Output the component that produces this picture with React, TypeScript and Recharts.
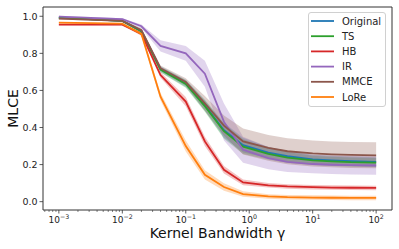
import React from 'react';
import { ComposedChart, Line, Area, XAxis, YAxis, ReferenceArea } from 'recharts';

// kernel bandwidths (log axis)
const gammas = [0.001, 0.01, 0.02, 0.04, 0.1, 0.2, 0.4, 0.8, 2, 4, 10, 20, 40, 100];

// mean MLCE per method
const original = [0.993, 0.975, 0.92, 0.715, 0.638, 0.52, 0.385, 0.305, 0.265, 0.245, 0.228, 0.222, 0.218, 0.215];
const ts = [0.993, 0.975, 0.92, 0.712, 0.635, 0.515, 0.38, 0.297, 0.258, 0.238, 0.223, 0.217, 0.213, 0.211];
const hb = [0.955, 0.955, 0.905, 0.683, 0.54, 0.325, 0.172, 0.104, 0.088, 0.082, 0.078, 0.076, 0.075, 0.074];
const ir = [0.998, 0.984, 0.946, 0.84, 0.8, 0.69, 0.43, 0.28, 0.235, 0.215, 0.203, 0.199, 0.197, 0.195];
const mmce = [0.987, 0.975, 0.925, 0.72, 0.645, 0.53, 0.41, 0.325, 0.29, 0.272, 0.26, 0.255, 0.252, 0.25];
const lore = [0.966, 0.96, 0.905, 0.566, 0.3, 0.145, 0.079, 0.041, 0.028, 0.024, 0.022, 0.021, 0.02, 0.02];

// half width of the shaded band
const originalSd = [0.005, 0.005, 0.01, 0.015, 0.02, 0.03, 0.04, 0.04, 0.03, 0.03, 0.025, 0.025, 0.025, 0.025];
const tsSd = [0.005, 0.005, 0.01, 0.015, 0.02, 0.03, 0.04, 0.04, 0.03, 0.03, 0.025, 0.025, 0.025, 0.025];
const hbSd = [0.003, 0.003, 0.01, 0.015, 0.025, 0.025, 0.02, 0.015, 0.012, 0.012, 0.012, 0.012, 0.012, 0.012];
const irSd = [0.005, 0.005, 0.01, 0.03, 0.04, 0.07, 0.1, 0.07, 0.06, 0.055, 0.05, 0.05, 0.05, 0.05];
const mmceSd = [0.005, 0.005, 0.01, 0.015, 0.02, 0.04, 0.055, 0.07, 0.07, 0.07, 0.07, 0.07, 0.07, 0.07];
const loreSd = [0.003, 0.003, 0.01, 0.02, 0.03, 0.025, 0.02, 0.015, 0.012, 0.012, 0.012, 0.012, 0.012, 0.012];

const yTicks = [0, 0.2, 0.4, 0.6, 0.8, 1.0];
const majorExps = [-3, -2, -1, 0, 1, 2];

const series = [
  { key: 'original', name: 'Original', color: '#1f77b4', mean: original, sd: originalSd },
  { key: 'ts', name: 'TS', color: '#2ca02c', mean: ts, sd: tsSd },
  { key: 'hb', name: 'HB', color: '#d62728', mean: hb, sd: hbSd },
  { key: 'ir', name: 'IR', color: '#9467bd', mean: ir, sd: irSd },
  { key: 'mmce', name: 'MMCE', color: '#8c564b', mean: mmce, sd: mmceSd },
  { key: 'lore', name: 'LoRe', color: '#ff7f0e', mean: lore, sd: loreSd },
];

const data = gammas.map((g, i) => {
  const row: any = { g };
  series.forEach(s => {
    row[s.key] = s.mean[i];
    row[s.key + 'Band'] = [s.mean[i] - s.sd[i], s.mean[i] + s.sd[i]];
  });
  return row;
});

const xMin = Math.pow(10, -3.25);
const xMax = Math.pow(10, 2.25);
const yMin = -0.045;
const yMax = 1.05;

// major + minor ticks for the log axis
const xTicks: number[] = [];
for (let e = -4; e <= 2; e++) {
  for (let m = 1; m <= 9; m++) {
    const v = m * Math.pow(10, e);
    if (v >= xMin && v <= xMax) xTicks.push(v);
  }
}

const font = 'DejaVu Sans, sans-serif';
const axisColor = '#333';
const textColor = '#222';

const XTick = (props: any) => {
  const { x, y, payload } = props;
  const lg = Math.log10(payload.value);
  const e = Math.round(lg);
  const major = Math.abs(lg - e) < 1e-6 && majorExps.includes(e);
  return (
    <g>
      <line x1={x} x2={x} y1={y} y2={y + (major ? 3.5 : 2)} stroke={axisColor} strokeWidth={major ? 0.8 : 0.6} />
      {major && (
        <text x={x} y={y + 12.5} textAnchor="middle" fontSize={9} fill={textColor} fontFamily={font}>
          10<tspan dy={-4} fontSize={6.3}>{e < 0 ? '\u2212' + -e : String(e)}</tspan>
        </text>
      )}
    </g>
  );
};

const Legendbox = () => (
  <div
    style={{
      position: 'absolute', left: 308, top: 12, width: 78, height: 95,
      border: '1px solid #d0d0d0', borderRadius: 3, background: 'rgba(255,255,255,0.8)',
      boxSizing: 'border-box',
    }}
  >
    <svg width={78} height={95} style={{ position: 'absolute', left: -1, top: -1 }}>
      {series.map((s, i) => (
        <g key={s.key}>
          <line x1={3} x2={26} y1={9 + i * 15.2} y2={9 + i * 15.2} stroke={s.color} strokeWidth={1.8} />
          <text x={34} y={9 + i * 15.2} dominantBaseline="central" fontSize={10} fill={textColor} fontFamily={font}>
            {s.name}
          </text>
        </g>
      ))}
    </svg>
  </div>
);

export default function App() {
  return (
    <div style={{ position: 'absolute', left: 0, top: 0, width: 399, height: 249, background: '#fff' }}>
      <ComposedChart width={399} height={249} data={data} margin={{ top: 7, right: 7, left: 0, bottom: 0 }}>
        <XAxis
          dataKey="g"
          type="number"
          scale="log"
          domain={[xMin, xMax]}
          allowDataOverflow
          ticks={xTicks}
          interval={0}
          tick={<XTick />}
          tickLine={false}
          tickSize={0}
          tickMargin={0}
          axisLine={false}
          height={39}
          label={(p: any) => {
            const vb = p.viewBox;
            return (
              <text x={vb.x + vb.width / 2} y={238} textAnchor="middle" fontSize={14} fill="#111" fontFamily={font}>
                Kernel Bandwidth γ
              </text>
            );
          }}
        />
        <YAxis
          type="number"
          domain={[yMin, yMax]}
          allowDataOverflow
          ticks={yTicks}
          interval={0}
          tickFormatter={(v: number) => v.toFixed(1)}
          tick={{ fontSize: 9.5, fill: textColor, fontFamily: font }}
          tickLine={{ stroke: axisColor, strokeWidth: 0.8 }}
          tickSize={3.5}
          tickMargin={2}
          axisLine={false}
          width={43}
          label={(p: any) => {
            const vb = p.viewBox;
            const cy = vb.y + vb.height / 2;
            return (
              <text x={18} y={cy} transform={`rotate(-90, 18, ${cy})`} textAnchor="middle" fontSize={14} fill="#111" fontFamily={font}>
                MLCE
              </text>
            );
          }}
        />
        {series.map(s => (
          <Area
            key={s.key + 'Band'}
            dataKey={s.key + 'Band'}
            type="linear"
            stroke="none"
            fill={s.color}
            fillOpacity={0.28}
            isAnimationActive={false}
          />
        ))}
        {series.map(s => (
          <Line
            key={s.key}
            dataKey={s.key}
            type="linear"
            stroke={s.color}
            strokeWidth={1.8}
            dot={false}
            activeDot={false}
            isAnimationActive={false}
          />
        ))}
        <ReferenceArea x1={xMin} x2={xMax} y1={yMin} y2={yMax} fill="none" fillOpacity={0} stroke={axisColor} strokeWidth={1} ifOverflow="visible" />
      </ComposedChart>
      <Legendbox />
    </div>
  );
}
